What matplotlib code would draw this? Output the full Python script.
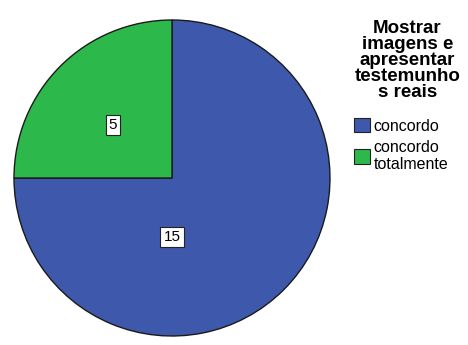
import matplotlib

matplotlib.use("Agg")
import matplotlib.pyplot as plt
from matplotlib.patches import Patch

categories = ["concordo", "concordo\ntotalmente"]
counts = [15, 5]
colors = ["#3e58ac", "#2db84b"]
legend_title = "Mostrar\nimagens e\napresentar\ntestemunho\ns reais"

plt.rcParams["font.family"] = ["Liberation Sans", "DejaVu Sans"]

fig = plt.figure(figsize=(4.68, 3.45), dpi=100)
# pie area: centre (172, 178) px, radius 158 px
r_px = 158
ax = fig.add_axes([(172 - r_px) / 468, 1 - (178 + r_px) / 345,
                   2 * r_px / 468, 2 * r_px / 345])
wedges, _ = ax.pie(counts, colors=colors, startangle=90, counterclock=False,
                   radius=1.0,
                   wedgeprops=dict(edgecolor="#1a1a1a", linewidth=1.0))
ax.set_xlim(-1.0, 1.0)
ax.set_ylim(-1.0, 1.0)
ax.set_aspect("auto")
ax.axis("off")

# value boxes
label_pos = [(0.0, -0.375), (-0.373, 0.335)]
for (x, y), n in zip(label_pos, counts):
    ax.text(x, y, str(n), ha="center", va="center", fontsize=11,
            bbox=dict(boxstyle="square,pad=0.2", facecolor="white",
                      edgecolor="#222222", linewidth=0.8))

handles = [Patch(facecolor=c, edgecolor="#222222", linewidth=0.8) for c in colors]
leg = fig.legend(handles, categories, title=legend_title,
                 loc="upper left", bbox_to_anchor=(348 / 468, 1 - 14 / 345),
                 frameon=False, fontsize=11.5, handlelength=1.0, handleheight=1.0,
                 handletextpad=0.2, labelspacing=0.4, borderaxespad=0,
                 title_fontproperties=dict(weight="bold", size=13.5))
leg._legend_box.align = "left"
leg._legend_box.sep = 12
leg.get_title().set_multialignment("center")
leg.get_title().set_linespacing(0.92)

fig.savefig("out.png", dpi=100)
